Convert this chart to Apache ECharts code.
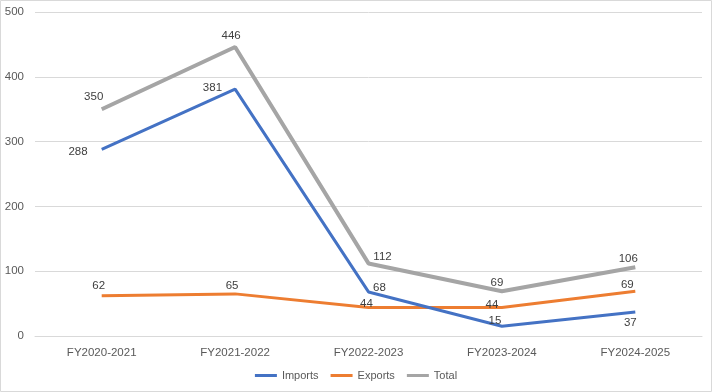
<!DOCTYPE html>
<html><head><meta charset="utf-8">
<script src="https://cdn.jsdelivr.net/npm/echarts@6/dist/echarts.min.js"></script>
<style>html,body{margin:0;padding:0;background:#fff}#c{width:712px;height:392px}</style>
</head><body><div id="c"></div>
<script>
var categories = ["FY2020-2021","FY2021-2022","FY2022-2023","FY2023-2024","FY2024-2025"];
var imports = [288, 381, 68, 15, 37];
var exportsV = [62, 65, 44, 44, 69];
var total = [350, 446, 112, 69, 106];
var yTicks = [0, 100, 200, 300, 400, 500];

var importPos = [['left',[-9,2]],['left',[-8,-1]],['top',[11,7]],['top',[-7,6]],['bottom',[-5,0]]];
var exportPos = [['top',[-3,1]],['top',[-3,3]],['top',[-2,7]],['top',[-10,8]],['top',[-8,5]]];
var totalPos = [['top',[-8,-1]],['top',[-4,0]],['top',[14,4]],['top',[-5,3]],['top',[-7,3]]];

function mk(vals, pos){
  return vals.map(function(v,i){return {value:v,label:{show:true,position:pos[i][0],offset:pos[i][1]}};});
}
var chart = echarts.init(document.getElementById('c'));
var lbl = {show:true,color:'#404040',fontSize:11.5,fontFamily:'Liberation Sans, Arial'};
function ser(name, vals, pos, color, w, z){
  return {name:name,type:'line',data:mk(vals,pos),symbol:'circle',symbolSize:0.1,showSymbol:true,z:z,
    lineStyle:{color:color,width:w},itemStyle:{color:color},label:lbl,
    emphasis:{disabled:true}};
}
chart.setOption({
  animation:false,
  textStyle:{fontFamily:'Liberation Sans, Arial'},
  graphic:[{type:'rect',shape:{x:0.5,y:0.5,width:711,height:391},style:{fill:'none',stroke:'#d9d9d9',lineWidth:1}}],
  grid:{left:35,right:10,top:12,bottom:56},
  legend:{bottom:6,left:'center',itemWidth:22,itemHeight:3,itemGap:12,icon:'rect',
    textStyle:{color:'#595959',fontSize:11},data:['Imports','Exports','Total']},
  xAxis:{type:'category',data:categories,boundaryGap:true,
    axisLine:{lineStyle:{color:'#d9d9d9'}},axisTick:{show:false},
    axisLabel:{color:'#595959',fontSize:11.5,margin:11}},
  yAxis:{type:'value',min:yTicks[0],max:yTicks[yTicks.length-1],interval:100,
    axisLine:{show:false},axisTick:{show:false},
    splitLine:{lineStyle:{color:'#d9d9d9'}},
    axisLabel:{color:'#595959',fontSize:11.5,margin:11}},
  series:[
    ser('Imports',imports,importPos,'#4472C4',3,3),
    ser('Exports',exportsV,exportPos,'#ED7D31',3,2),
    ser('Total',total,totalPos,'#A5A5A5',4,1)
  ]
});
</script></body></html>
